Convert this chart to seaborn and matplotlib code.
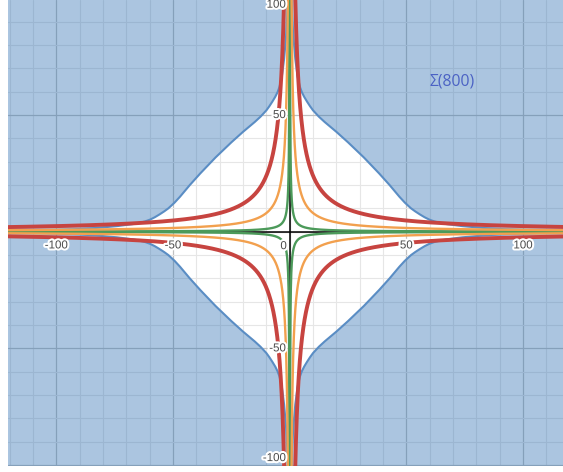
import numpy as np
import pandas as pd
import matplotlib
matplotlib.use("Agg")
import matplotlib.pyplot as plt
import seaborn as sns
from matplotlib import patheffects as pe

# ---- data (first quadrant, mirrored to the others) ----
boundary_x = [0.35, 0.6, 1.0, 1.6, 2.4, 3.3, 3.8, 4.4, 5.2, 6.2, 7.4, 8.7, 10.0, 12.5,
              15.0, 20.0, 25.0, 31.8, 38.3, 42.8, 47.0, 49.3, 52.0, 53.8, 55.8, 57.8,
              59.8, 62.0, 64.5, 67.0, 74.0, 83.0, 93.0, 105.0, 125.0]
boundary_y = [125.0, 105.0, 93.0, 83.0, 74.0, 67.0, 64.5, 62.0, 59.8, 57.8, 55.8, 53.8,
              52.0, 49.3, 47.0, 42.8, 38.3, 31.8, 25.0, 20.0, 15.0, 12.5, 10.0, 8.7,
              7.4, 6.2, 5.2, 4.4, 3.8, 3.3, 2.4, 1.6, 1.0, 0.6, 0.35]

curve_names = ["green", "orange", "red"]
curve_levels = [12, 80, 240]          # |x*y| = level
curve_colors = ["#4c9a5a", "#f2a04e", "#c74440"]
curve_widths = [1.7, 1.7, 2.8]

x_tick_values = [-100, -50, 50, 100]
y_tick_values = [100, 50, -50, -100]
annotation = "Σ(800)"

# ---- figure ----
sns.set_theme(style="white")
plt.rcParams["font.family"] = ["Liberation Sans", "DejaVu Sans"]

fig = plt.figure(figsize=(5.63, 4.72), dpi=100)
ax = fig.add_axes([8 / 563, 6 / 472, 555 / 563, 466 / 472])
xmin, xmax = -120.7, 117.1
ymin, ymax = -100.4, 99.3
ax.set_xlim(xmin, xmax)
ax.set_ylim(ymin, ymax)
ax.set_facecolor("white")

# grid
ax.set_xticks(np.arange(-100, 101, 50))
ax.set_xticks(np.arange(-120, 111, 10), minor=True)
ax.set_yticks(np.arange(-100, 101, 50))
ax.set_yticks(np.arange(-100, 101, 10), minor=True)
ax.grid(which="minor", color="#e6e6e6", lw=0.8)
ax.grid(which="major", color="#c0c0c0", lw=0.9)
ax.set_axisbelow(True)
ax.tick_params(which="both", length=0, labelbottom=False, labelleft=False)
for s in ax.spines.values():
    s.set_visible(False)

# shaded outside region
bx = np.array(boundary_x)
by = np.array(boundary_y)
xs_full = np.concatenate([-bx[::-1], bx])
ys_full = np.concatenate([by[::-1], by])
shade = "#2d70b3"
ax.fill_between(xs_full, ys_full, 140, color=shade, alpha=0.4, lw=0, zorder=1)
ax.fill_between(xs_full, -140, -ys_full, color=shade, alpha=0.4, lw=0, zorder=1)

# axes lines
ax.axhline(0, color="black", lw=1.1, zorder=2)
ax.axvline(0, color="black", lw=1.1, zorder=2)

# boundary line
rows = []
for qi, (sx, sy) in enumerate([(1, 1), (-1, 1), (-1, -1), (1, -1)]):
    for x, y in zip(boundary_x, boundary_y):
        rows.append({"x": sx * x, "y": sy * y, "q": qi})
bdf = pd.DataFrame(rows)
sns.lineplot(data=bdf, x="x", y="y", units="q", estimator=None, sort=False,
             color="#5a8dc4", lw=1.5, ax=ax, zorder=3, legend=False)

# hyperbola-like curves
for name, level, col, w in zip(curve_names, curve_levels, curve_colors, curve_widths):
    xs = np.geomspace(level / 140.0, 140.0, 600)
    rows = []
    for qi, (sx, sy) in enumerate([(1, 1), (-1, 1), (-1, -1), (1, -1)]):
        for x in xs:
            rows.append({"x": sx * x, "y": sy * level / x, "q": qi})
    cdf = pd.DataFrame(rows)
    sns.lineplot(data=cdf, x="x", y="y", units="q", estimator=None, sort=False,
                 color=col, lw=w, ax=ax, zorder=4, legend=False)

ax.set_xlabel("")
ax.set_ylabel("")
ax.set_xlim(xmin, xmax)
ax.set_ylim(ymin, ymax)

# tick labels with white halo
halo = [pe.withStroke(linewidth=3, foreground="white")]
lab_kw = dict(fontsize=8.3, color="#4a4a4a", path_effects=halo, zorder=6)
for v in x_tick_values:
    ax.text(v, -3.3, str(v), ha="center", va="top", **lab_kw)
ax.text(-1.2, -3.6, "0", ha="right", va="top", **lab_kw)
for v in y_tick_values:
    yy = min(max(v, -97.0), 97.3)
    ax.text(-1.6, yy, str(v), ha="right", va="center", **lab_kw)

ax.text(60.1, 64.4, annotation, ha="left", va="center", fontsize=11.3,
        color="#4b62c4", family=["Open Sans", "DejaVu Sans"], zorder=6)

fig.savefig("out.png", dpi=100)
